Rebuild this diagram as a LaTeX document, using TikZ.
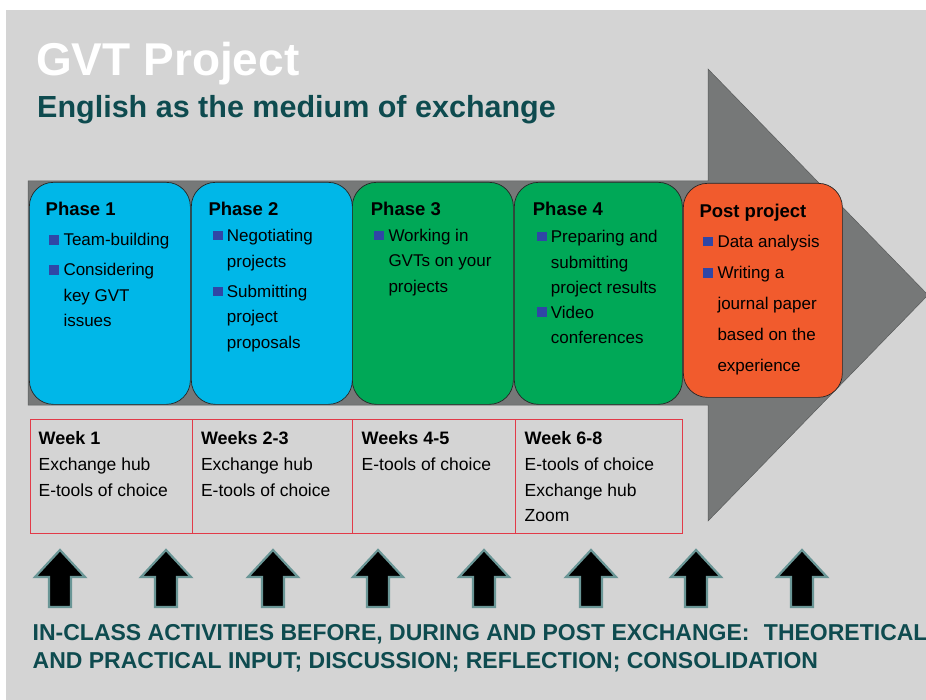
\documentclass[tikz,border=0pt]{standalone}
\usepackage{fontspec}
\setmainfont{Liberation Sans}
\definecolor{bggray}{HTML}{D4D4D4}
\definecolor{arrgray}{HTML}{767878}
\definecolor{phcyan}{HTML}{00B7E8}
\definecolor{phgreen}{HTML}{00A857}
\definecolor{phorange}{HTML}{F15B2D}
\definecolor{bulblue}{HTML}{3046A6}
\definecolor{darkteal}{HTML}{0E4B4F}
\definecolor{weekred}{HTML}{E23A48}
\definecolor{glowc}{HTML}{6A9696}
\tikzset{
  phasebox/.style={draw=black!85, line width=0.7pt, rounded corners=24pt, anchor=north west, inner sep=0pt},
  weekbox/.style={draw=weekred, line width=0.8pt, anchor=north west, inner sep=0pt, minimum height=113.7pt},
  tx/.style={font=\fontsize{17}{20}\selectfont, inner sep=0pt, anchor=base west, text=black},
  ptitle/.style={font=\bfseries\fontsize{18.5}{22}\selectfont, inner sep=0pt, anchor=base west, text=black},
  wtitle/.style={font=\bfseries\fontsize{18}{22}\selectfont, inner sep=0pt, anchor=base west, text=black},
  wtx/.style={font=\fontsize{17.5}{21}\selectfont, inner sep=0pt, anchor=base west, text=black},
  bul/.style={fill=bulblue, minimum width=10pt, minimum height=9.5pt, inner sep=0pt, anchor=south east},
  upa/.style={fill=black, draw=glowc, line width=2.2pt, line join=miter},
  bottomtx/.style={font=\bfseries\fontsize{23}{27}\selectfont, inner sep=0pt, anchor=base west, text=darkteal}
}
\newcommand{\bitem}[4]{%
  \node[bul] (#1b) at ({#2-3.8},{#3-1.2}) {};
  \node[tx] (#1) at (#2,#3) {#4};}
\newcommand{\uparr}[1]{%
  \path[upa] ({#1-11},607) -- ({#1-11},577) -- ({#1-25},577) -- (#1,550) -- ({#1+25},577) -- ({#1+11},577) -- ({#1+11},607) -- cycle;}
\begin{document}
\begin{tikzpicture}[x=1pt,y=-1pt]
\useasboundingbox (0,0) rectangle (926,700);
\fill[white] (0,0) rectangle (926,700);
\fill[bggray] (6,10) rectangle (926,700);

% titles
\node[font=\bfseries\fontsize{46}{50}\selectfont, text=white, inner sep=0pt, anchor=base west] (title) at (36,76) {GVT Project};
\node[font=\bfseries\fontsize{30.5}{34}\selectfont, text=darkteal, inner sep=0pt, anchor=base west] (subtitle) at (37,118) {English as the medium of exchange};

% big arrow
\fill[arrgray, draw=arrgray!75!black, line width=0.5pt] (28,181) -- (708,181) -- (708,69) -- (928,295) -- (708,521) -- (708,405) -- (28,405) -- cycle;

% phase boxes
\node[phasebox, fill=phcyan, minimum width=161pt, minimum height=222pt] (p1) at (29,182) {};
\node[phasebox, fill=phcyan, minimum width=161pt, minimum height=222pt] (p2) at (191,182) {};
\node[phasebox, fill=phgreen, minimum width=161pt, minimum height=222pt] (p3) at (352,182) {};
\node[phasebox, fill=phgreen, minimum width=168pt, minimum height=222pt] (p4) at (514,182) {};
\node[phasebox, fill=phorange, minimum width=159pt, minimum height=214pt] (p5) at (683,183) {};

% phase 1
\node[ptitle] (t1) at (45.5,216) {Phase 1};
\bitem{a1}{63.3}{246}{Team-building}
\bitem{a2}{63.3}{276}{Considering}
\node[tx] (a3) at (63.3,301.7) {key GVT};
\node[tx] (a4) at (63.3,326.7) {issues};

% phase 2
\node[ptitle] (t2) at (208.3,216) {Phase 2};
\bitem{c1}{226.7}{241.7}{Negotiating}
\node[tx] (c2) at (226.7,267.7) {projects};
\bitem{c3}{226.7}{297.7}{Submitting}
\node[tx] (c4) at (226.7,322.3) {project};
\node[tx] (c5) at (226.7,348.3) {proposals};

% phase 3
\node[ptitle] (t3) at (370.7,216) {Phase 3};
\bitem{d1}{388.3}{241.7}{Working in}
\node[tx] (d2) at (388.3,266.7) {GVTs on your};
\node[tx] (d3) at (388.3,292.7) {projects};

% phase 4
\node[ptitle] (t4) at (532.7,215.7) {Phase 4};
\bitem{e1}{550.7}{242.7}{Preparing and}
\node[tx] (e2) at (550.7,268.3) {submitting};
\node[tx] (e3) at (550.7,293.3) {project results};
\bitem{e4}{550.7}{318.3}{Video}
\node[tx] (e5) at (550.7,344) {conferences};

% post project
\node[ptitle] (t5) at (699.3,217.3) {Post project};
\bitem{f1}{717.3}{247.7}{Data analysis}
\bitem{f2}{717.3}{279}{Writing a}
\node[tx] (f3) at (717.3,310) {journal paper};
\node[tx] (f4) at (717.3,340.7) {based on the};
\node[tx] (f5) at (717.3,371.7) {experience};

% week boxes
\node[weekbox, minimum width=162.5pt] (w1) at (29.5,419) {};
\node[weekbox, minimum width=160pt] (w2) at (192,419) {};
\node[weekbox, minimum width=163pt] (w3) at (352,419) {};
\node[weekbox, minimum width=167pt] (w4) at (515,419) {};

\node[wtitle] (wt1) at (38.4,444) {Week 1};
\node[wtx] (wa1) at (38.4,470.7) {Exchange hub};
\node[wtx] (wa2) at (38.4,496.7) {E-tools of choice};

\node[wtitle] (wt2) at (200.8,444) {Weeks 2-3};
\node[wtx] (wb1) at (200.8,470.7) {Exchange hub};
\node[wtx] (wb2) at (200.8,496.7) {E-tools of choice};

\node[wtitle] (wt3) at (361.5,444) {Weeks 4-5};
\node[wtx] (wc1) at (361.5,470.7) {E-tools of choice};

\node[wtitle] (wt4) at (524.5,444) {Week 6-8};
\node[wtx] (wd1) at (524.5,470.7) {E-tools of choice};
\node[wtx] (wd2) at (524.5,496.7) {Exchange hub};
\node[wtx] (wd3) at (524.5,521.7) {Zoom};

% up arrows
\uparr{60}
\uparr{166}
\uparr{273}
\uparr{378}
\uparr{484}
\uparr{591}
\uparr{696}
\uparr{802}

% bottom text
\node[bottomtx] (bt1) at (32.5,640.7) {IN-CLASS ACTIVITIES BEFORE, DURING AND POST EXCHANGE:\hspace{0.35em} THEORETICAL};
\node[bottomtx] (bt2) at (32.5,668.3) {AND PRACTICAL INPUT; DISCUSSION; REFLECTION; CONSOLIDATION};
\end{tikzpicture}
\end{document}
